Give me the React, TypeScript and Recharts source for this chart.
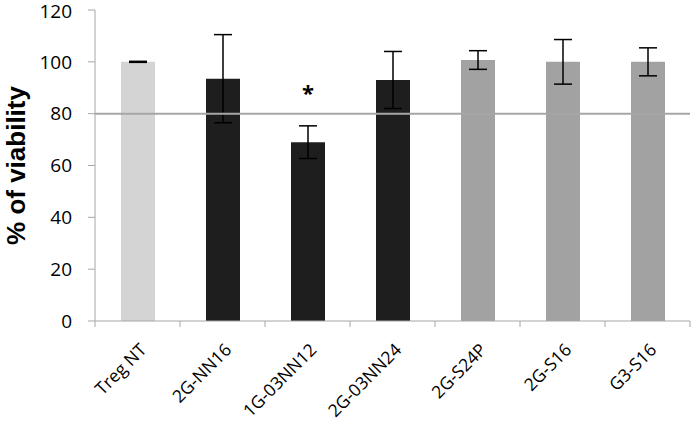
import { BarChart, Bar, XAxis, YAxis, ErrorBar, Cell, LabelList, ReferenceLine, Label } from 'recharts';

const categories = ['Treg NT', '2G-NN16', '1G-03NN12', '2G-03NN24', '2G-S24P', '2G-S16', 'G3-S16'];
const viability = [100, 93.5, 69, 93, 100.7, 100, 100];
const errors = [0.2, 17, 6.3, 11, 3.6, 8.6, 5.4];
const marks = ['', '', '*', '', '', '', ''];
const barColors = ['#d4d4d4', '#1e1e1e', '#1e1e1e', '#1e1e1e', '#a2a2a2', '#a2a2a2', '#a2a2a2'];
const yTicks = [0, 20, 40, 60, 80, 100, 120];

const W = 691;
const H = 426;
const LEFT = 95;
const RIGHT = 1;
const BAND = (W - LEFT - RIGHT) / categories.length;
const AXIS = '#a6a6a6';
const FONT = '"Open Sans", "Liberation Sans", sans-serif';

const data = categories.map((name, i) => ({
    name,
    value: viability[i],
    err: errors[i],
    mark: marks[i],
}));

function XTick(props: any) {
    const { x, y, payload, index } = props;
    return (
        <g transform={`translate(${x},${y})`}>
            <line x1={-BAND / 2} x2={-BAND / 2} y1={0} y2={6} stroke={AXIS} />
            {index === categories.length - 1 && (
                <line x1={BAND / 2} x2={BAND / 2} y1={0} y2={6} stroke={AXIS} />
            )}
            <text
                transform="translate(10,30) rotate(-45)"
                textAnchor="end"
                fontSize={17.5}
                fontFamily={FONT}
                fill="#000"
            >
                {payload.value}
            </text>
        </g>
    );
}

function Star(props: any) {
    const { x, y, width, value } = props;
    if (!value) return null;
    return (
        <text x={x + width / 2} y={y - 41} textAnchor="middle" fontSize={22} fontWeight="bold" fontFamily={FONT} fill="#000">
            {value}
        </text>
    );
}

export default function App() {
    return (
        <div style={{ position: 'absolute', left: 0, top: 0, background: '#fff' }}>
            <BarChart width={W} height={H} data={data} margin={{ top: 10, right: RIGHT, left: 0, bottom: 0 }} barSize={34}>
                <XAxis
                    dataKey="name"
                    height={105}
                    stroke={AXIS}
                    tickLine={false}
                    tickSize={0}
                    tickMargin={0}
                    interval={0}
                    tick={<XTick />}
                />
                <YAxis
                    width={LEFT}
                    domain={[0, 120]}
                    ticks={yTicks}
                    stroke={AXIS}
                    tickSize={7}
                    tickMargin={16}
                    tick={{ fill: '#000', fontSize: 19, fontFamily: FONT }}
                >
                    <Label
                        content={(p: any) => (
                            <text
                                transform={`translate(25,${p.viewBox.y + p.viewBox.height / 2}) rotate(-90)`}
                                textAnchor="middle"
                                fontSize={26}
                                fontWeight="bold"
                                fontFamily='"Liberation Sans", Arial, sans-serif'
                                fill="#000"
                            >
                                % of viability
                            </text>
                        )}
                    />
                </YAxis>
                <Bar dataKey="value" isAnimationActive={false}>
                    {data.map((d, i) => (
                        <Cell key={d.name} fill={barColors[i]} />
                    ))}
                    <ErrorBar dataKey="err" width={9} strokeWidth={1.5} stroke="#000" />
                    <LabelList dataKey="mark" content={<Star />} />
                </Bar>
                <ReferenceLine y={80} stroke="#a6a6a6" strokeWidth={2} />
            </BarChart>
        </div>
    );
}
